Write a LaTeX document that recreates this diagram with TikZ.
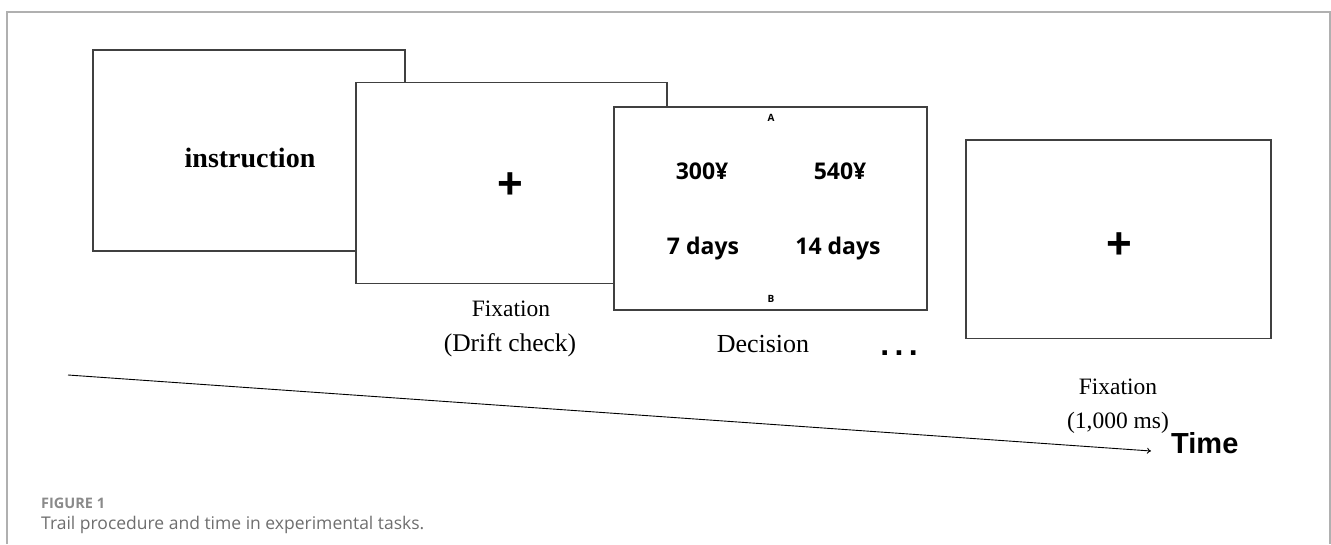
\documentclass[tikz,border=0pt]{standalone}
\usepackage{fontspec}
\setmainfont{Liberation Serif}
\newfontfamily\arialf{Liberation Sans}
\newfontfamily\osans{Open Sans}
\usetikzlibrary{arrows.meta}
\definecolor{framegray}{HTML}{B0B0B0}
\definecolor{capgray}{HTML}{6E6E6E}
\definecolor{figgray}{HTML}{8A8A8A}
\begin{document}
\begin{tikzpicture}[x=1pt,y=-1pt,
  screen/.style={draw=black!75, line width=1.1pt, fill=white, anchor=north west, inner sep=0pt, outer sep=0pt},
  lbl/.style={font=\fontsize{23.5}{25}\selectfont, anchor=base, inner sep=0pt},
  opt/.style={font=\osans\bfseries\fontsize{23}{25}\selectfont, anchor=base, inner sep=0pt},
  side/.style={font=\osans\bfseries\fontsize{10}{11}\selectfont, anchor=base, inner sep=0pt},
  cross/.style={font=\arialf\bfseries\fontsize{44}{44}\selectfont, inner sep=0pt},
]
\useasboundingbox (0,0) rectangle (1331,544);
% outer frame (open at bottom)
\draw[framegray, line width=1.4pt] (7,544) -- (7,12) -- (1330,12) -- (1330,544);

% screens
\node[screen, minimum width=312pt, minimum height=201pt] (s1) at (93,50) {};
\node[font=\bfseries\fontsize{28}{30}\selectfont, inner sep=0pt] (instr) at (250,158) {instruction};

\node[screen, minimum width=311pt, minimum height=201pt] (s2) at (356,82.5) {};
\node[cross] (plus2) at (510,186) {+};

\node[screen, minimum width=313pt, minimum height=203pt] (s3) at (614,107) {};
\node[side] (A) at (771,121) {A};
\node[side] (B) at (771,302.5) {B};
\node[opt] (m1) at (702,179.5) {300¥};
\node[opt] (m2) at (840,179.5) {540¥};
\node[opt] (d1) at (703,254) {7 days};
\node[opt] (d2) at (838,254) {14 days};

\node[screen, minimum width=305pt, minimum height=198.5pt] (s4) at (966,140) {};
\node[cross] (plus4) at (1119,246) {+};

% labels
\node[lbl] (f1) at (511,316) {Fixation};
\node[lbl, font=\fontsize{25.5}{27}\selectfont] (f1b) at (510,351) {(Drift check)};
\node[lbl, font=\fontsize{26}{27}\selectfont] (dec) at (763,352) {Decision};
\node[font=\arialf\bfseries\fontsize{32}{32}\selectfont, anchor=base, inner sep=0pt] (dots) at (899,355) {.\,.\,.};
\node[lbl] (f2) at (1118,394) {Fixation};
\node[lbl] (f2b) at (1118,428) {(1,000 ms)};

% time axis
\coordinate (t0) at (68,375);
\coordinate (t1) at (1151,451);
\draw[line width=0.9pt, -{To[length=4pt,width=6pt]}] (t0) -- (t1);
\node[font=\arialf\bfseries\fontsize{29}{30}\selectfont, anchor=base west, inner sep=0pt] (time) at (1171,453) {Time};

% caption
\node[font=\osans\bfseries\fontsize{14.5}{16}\selectfont, text=figgray, anchor=base west, inner sep=0pt] (fig) at (41,508.5) {FIGURE 1};
\node[font=\osans\fontsize{17.5}{19}\selectfont, text=capgray, anchor=base west, inner sep=0pt] (cap) at (41,529) {Trail procedure and time in experimental tasks.};
\end{tikzpicture}
\end{document}
